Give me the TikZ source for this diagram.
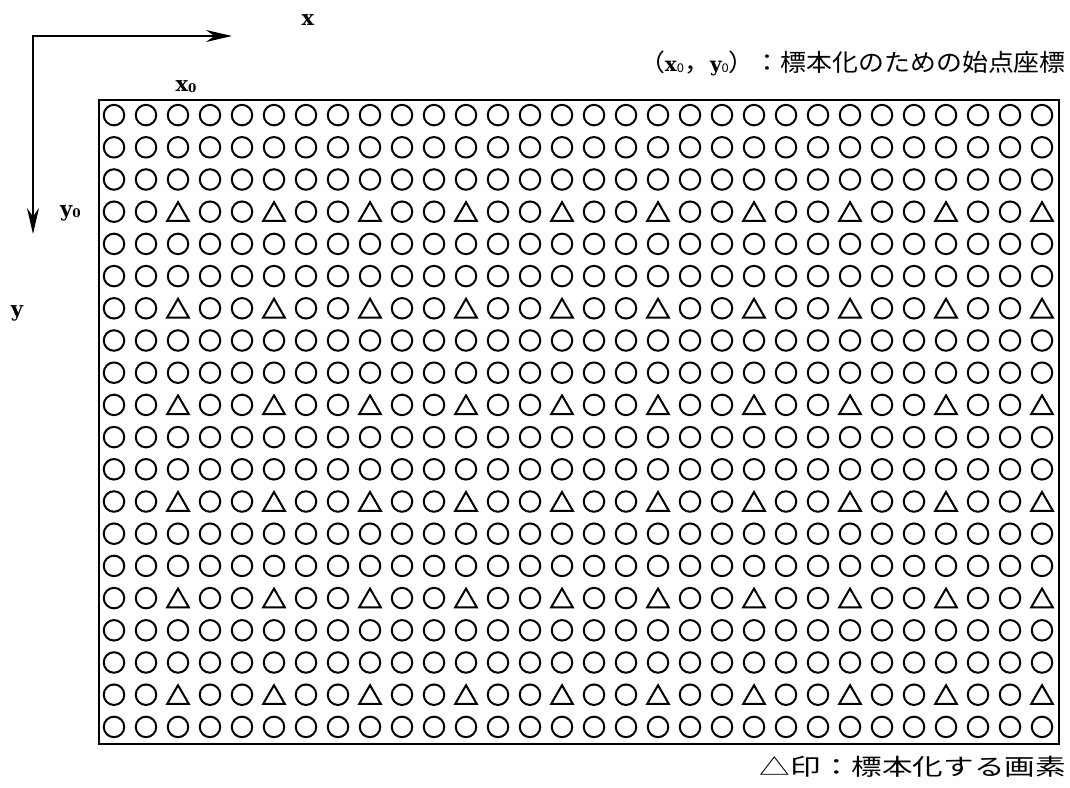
\documentclass[tikz,border=0pt]{standalone}
\usepackage{fontspec}
\usetikzlibrary{arrows.meta,shapes.geometric}
\newfontfamily\jpfont[FakeStretch=1.08]{Noto Sans CJK JP}
\newfontfamily\jpwide[FakeStretch=1.33]{Noto Sans CJK JP}
\newfontfamily\labfont{DejaVu Serif}
\newcommand{\zsub}{\raisebox{-0.1ex}{\fontsize{12pt}{12pt}\selectfont 0}}

\begin{document}
\begin{tikzpicture}[
      x=1pt, y=-1pt,
      every node/.style={inner sep=0pt},
      pix/.style={draw, circle, line width=2pt, minimum size=20.5pt},
      samp/.style={draw, regular polygon, regular polygon sides=3, line width=2pt, minimum size=25pt, yshift=-3pt},
      axis/.style={line width=2pt, {Stealth[length=26pt,width=12pt]}-{Stealth[length=26pt,width=12pt]}},
      lab/.style={font=\labfont\bfseries\fontsize{21pt}{21pt}\selectfont}
    ]
    \useasboundingbox (0,0) rectangle (1070,787);

    % axes
    \coordinate (orig) at (33,36);
    \coordinate (xtip) at (232,36);
    \coordinate (ytip) at (33,234);
    \draw[axis] (xtip) -- (orig) -- (ytip);
    \node[lab] (xlab) at (308,20) {x};
    \node[lab] (ylab) at (17,313) {y};

    % image frame and pixels
    \node[draw, line width=2pt, minimum width=960pt, minimum height=644pt, anchor=north west] (frame) at (98,99) {};
    \foreach \r in {1,...,20}
      \foreach \c in {1,...,30} {
        \pgfmathtruncatemacro\istri{(mod(\r,3)==1)*(\r>1)*(mod(\c,3)==0)}
        \ifnum\istri=1
          \node[samp] (p-\r-\c) at ({98+32*(\c-0.5)},{99+32.2*(\r-0.5)}) {};
        \else
          \node[pix] (p-\r-\c) at ({98+32*(\c-0.5)},{99+32.2*(\r-0.5)}) {};
        \fi
      }

    % start point and legend
    \node[lab] (x0) at (186,87) {x\zsub};
    \node[lab, anchor=west] (y0) at (60,213) {y\zsub};
    \node[anchor=east, font=\jpfont\fontsize{24pt}{24pt}\selectfont] (start) at (1066,63)
      {（{\labfont\bfseries\fontsize{20pt}{20pt}\selectfont x}\zsub，{\labfont\bfseries\fontsize{20pt}{20pt}\selectfont y}\zsub）：標本化のための始点座標};
    \node[anchor=east, font=\jpwide\fontsize{23pt}{23pt}\selectfont] (legend) at (1066,767) {△印：標本化する画素};
  \end{tikzpicture}
\end{document}
